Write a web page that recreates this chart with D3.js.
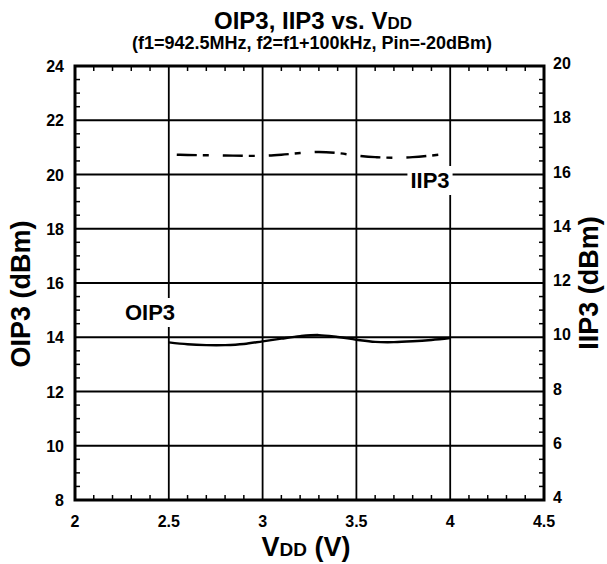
<!DOCTYPE html>
<html><head><meta charset="utf-8">
<script src="https://cdn.jsdelivr.net/npm/d3@7"></script>
<style>
body{margin:0;background:#fff;}
text{font-family:Arial,"Liberation Sans",Helvetica,sans-serif;font-weight:bold;fill:#000;}
</style></head>
<body>
<svg id="c" width="607" height="564"></svg>
<script>
// ---- data ----
const vdd = [2.5, 2.6, 2.7, 2.8, 2.9, 3.0, 3.1, 3.2, 3.3, 3.4, 3.5, 3.6, 3.7, 3.8, 3.9, 4.0];
const oip3 = [13.81, 13.74, 13.71, 13.71, 13.75, 13.85, 13.95, 14.04, 14.08, 14.01, 13.91, 13.83, 13.82, 13.85, 13.90, 13.97];
const iip3 = [16.74, 16.72, 16.71, 16.70, 16.69, 16.69, 16.73, 16.79, 16.83, 16.79, 16.70, 16.64, 16.62, 16.64, 16.70, 16.78];
const xTicks = [2, 2.5, 3, 3.5, 4, 4.5];
const xTickLabels = ["2", "2.5", "3", "3.5", "4", "4.5"];
const yLeftTicks = [8, 10, 12, 14, 16, 18, 20, 22, 24];
const yRightTicks = [4, 6, 8, 10, 12, 14, 16, 18, 20];

const svg = d3.select("#c");
const L = 75, R = 544, T = 66, B = 500;
const x = d3.scaleLinear().domain([2, 4.5]).range([L, R]);
const yL = d3.scaleLinear().domain([8, 24]).range([B, T]);
const yR = d3.scaleLinear().domain([4, 20]).range([B, T]);

// grid lines
const g = svg.append("g");
g.selectAll("line.gx").data(xTicks.slice(1, -1)).enter().append("line")
  .attr("x1", d => x(d)).attr("x2", d => x(d)).attr("y1", T).attr("y2", B)
  .attr("stroke", "#000").attr("stroke-width", 1.8);
g.selectAll("line.gy").data(yLeftTicks.slice(1, -1)).enter().append("line")
  .attr("y1", d => yL(d)).attr("y2", d => yL(d)).attr("x1", L).attr("x2", R)
  .attr("stroke", "#000").attr("stroke-width", 1.8);

// minor ticks
const xMinor = d3.range(21, 45).map(i => i / 10).filter(v => Math.abs(v * 2 - Math.round(v * 2)) > 1e-6);
const yMinor = d3.range(17, 48).map(i => i / 2).filter(v => v % 2 !== 0);
const tl = 5;
g.selectAll("line.mxb").data(xMinor).enter().append("line")
  .attr("x1", d => x(d)).attr("x2", d => x(d)).attr("y1", B).attr("y2", B - tl)
  .attr("stroke", "#000").attr("stroke-width", 1.5);
g.selectAll("line.mxt").data(xMinor).enter().append("line")
  .attr("x1", d => x(d)).attr("x2", d => x(d)).attr("y1", T).attr("y2", T + tl)
  .attr("stroke", "#000").attr("stroke-width", 1.5);
g.selectAll("line.myl").data(yMinor).enter().append("line")
  .attr("y1", d => yL(d)).attr("y2", d => yL(d)).attr("x1", L).attr("x2", L + tl)
  .attr("stroke", "#000").attr("stroke-width", 1.5);
g.selectAll("line.myr").data(yMinor).enter().append("line")
  .attr("y1", d => yL(d)).attr("y2", d => yL(d)).attr("x1", R).attr("x2", R - tl)
  .attr("stroke", "#000").attr("stroke-width", 1.5);

// annotation labels with white boxes (drawn over grid, under curves)
function label(txt, cx, baseline, size) {
  const t = svg.append("text").attr("x", cx).attr("y", baseline).attr("text-anchor", "middle")
    .style("font-size", size + "px").text(txt);
  const bb = t.node().getBBox();
  svg.insert("rect", () => t.node()).attr("x", bb.x - 3).attr("y", bb.y - 2)
    .attr("width", bb.width + 6).attr("height", bb.height + 4).attr("fill", "#fff");
}
label("OIP3", 150, 320, 22);
label("IIP3", 430, 188, 22);

// curves
const line = d3.line().curve(d3.curveCatmullRom.alpha(0.5));
svg.append("path").attr("d", line(vdd.map((v, i) => [x(v), yL(oip3[i])])))
  .attr("fill", "none").attr("stroke", "#000").attr("stroke-width", 2.4);
svg.append("path").attr("d", line(vdd.map((v, i) => [x(v), yR(iip3[i])])))
  .attr("fill", "none").attr("stroke", "#000").attr("stroke-width", 2.4)
  .attr("stroke-dasharray", "0,8,20,6,6,6");

// frame
svg.append("rect").attr("x", L).attr("y", T).attr("width", R - L).attr("height", B - T)
  .attr("fill", "none").attr("stroke", "#000").attr("stroke-width", 3);

// axis labels
svg.selectAll("text.xl").data(xTicks).enter().append("text")
  .attr("x", d => x(d)).attr("y", 527).attr("text-anchor", "middle")
  .style("font-size", "16px").text((d, i) => xTickLabels[i]);
svg.selectAll("text.yl").data(yLeftTicks).enter().append("text")
  .attr("x", 64).attr("y", d => yL(d) + 6).attr("text-anchor", "end")
  .style("font-size", "16px").text(d => d);
svg.selectAll("text.yr").data(yRightTicks).enter().append("text")
  .attr("x", 553).attr("y", d => yR(d) + 3).attr("text-anchor", "start")
  .style("font-size", "16px").text(d => d);

// titles
const t1 = svg.append("text").attr("x", 313).attr("y", 29).attr("text-anchor", "middle").style("font-size", "24px");
t1.append("tspan").text("OIP3, IIP3 vs. V");
t1.append("tspan").style("font-size", "17px").text("DD");
svg.append("text").attr("x", 312).attr("y", 49).attr("text-anchor", "middle")
  .style("font-size", "18px").text("(f1=942.5MHz, f2=f1+100kHz, Pin=-20dBm)");

const xt = svg.append("text").attr("x", 306).attr("y", 556).attr("text-anchor", "middle").style("font-size", "27px");
xt.append("tspan").text("V");
xt.append("tspan").style("font-size", "19px").text("DD");
xt.append("tspan").text(" (V)");

svg.append("text").attr("transform", "translate(30,294) rotate(-90)").attr("text-anchor", "middle")
  .style("font-size", "27px").text("OIP3 (dBm)");
svg.append("text").attr("transform", "translate(598,283) rotate(-90)").attr("text-anchor", "middle")
  .style("font-size", "27px").text("IIP3 (dBm)");
</script>
</body></html>
